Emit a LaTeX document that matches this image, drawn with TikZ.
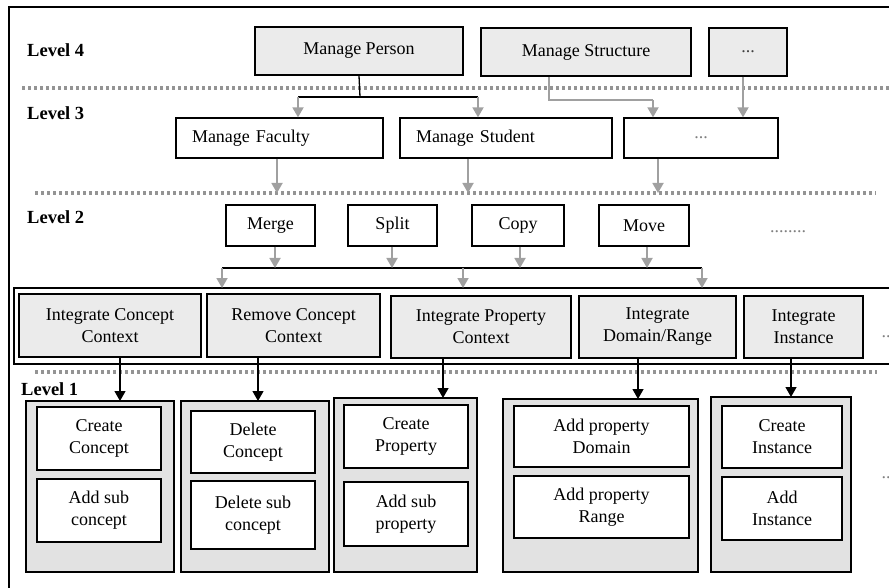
\documentclass[tikz,border=0pt]{standalone}
\usepackage{fontspec}
\setmainfont{Liberation Serif}
\usetikzlibrary{arrows.meta}
\definecolor{lg}{HTML}{EBEBEB}
\definecolor{cg}{HTML}{E2E2E2}
\definecolor{dg}{HTML}{949494}
\definecolor{ag}{HTML}{A0A0A0}
\newcommand\txt{\fontsize{18}{22}\selectfont}
\tikzset{
  box/.style={draw, line width=1.3pt, inner sep=1pt, align=center, font=\txt},
  gbox/.style={box, fill=lg},
  wbox/.style={box, fill=white},
  cbox/.style={draw, line width=1.3pt, fill=cg},
  lvl/.style={anchor=west, font=\fontsize{18.5}{20}\selectfont\bfseries, inner sep=0pt},
  dotl/.style={draw=dg, line width=3.3pt, dash pattern=on 3.3pt off 2.7pt},
  garrow/.style={draw=ag, line width=1.8pt, -{Triangle[width=11pt,length=10pt]}},
  gline/.style={draw=ag, line width=1.8pt},
  bline/.style={draw=black, line width=1.3pt},
  barrow/.style={draw=black, line width=1.3pt, -{Triangle[width=11pt,length=10pt]}},
  dots/.style={font=\txt, text=gray, inner sep=0pt},
}
\begin{document}
\begin{tikzpicture}[x=1pt,y=-1pt]
\useasboundingbox (0,0) rectangle (889,588);
% outer frame
\draw[line width=1.6pt] (9,588) -- (9,7) -- (889,7);
% level labels
\node[lvl] (l4) at (27,50) {Level 4};
\node[lvl] (l3) at (27,113) {Level 3};
\node[lvl] (l2) at (27,217) {Level 2};
\node[lvl] (l1) at (21,389) {Level 1};
% dotted separators
\coordinate (d1a) at (22,88);  \coordinate (d1b) at (889,88);
\coordinate (d2a) at (35,193); \coordinate (d2b) at (876,193);
\coordinate (d3a) at (35,372); \coordinate (d3b) at (877,372);
\draw[dotl] (d1a) -- (d1b);
\draw[dotl] (d2a) -- (d2b);
\draw[dotl] (d3a) -- (d3b);
% Level 4
\node[gbox, minimum width=208pt, minimum height=48pt] (mp) at (359,51) {Manage Person};
\node[gbox, minimum width=210pt, minimum height=48pt] (ms) at (586,52) {Manage Structure};
\node[gbox, minimum width=78pt, minimum height=48pt] (e4) at (748,52) {\textcolor{darkgray}{...}};
% Level 3
\node[wbox, minimum height=40pt, text width=175pt, inner xsep=16pt, align=left] (mf) at (279.5,138) {Manage Faculty};
\node[wbox, minimum height=40pt, text width=180pt, inner xsep=16pt, align=left] (mst) at (506,138) {Manage Student};
\node[wbox, minimum width=154pt, minimum height=40pt] (e3) at (701,138) {\textcolor{gray}{...}};
% L4 -> L3 connectors
\coordinate (p1) at (360,97);
\coordinate (p2) at (298,97);
\coordinate (p3) at (478,97);
\draw[bline] (mp.south) -- (p1);
\draw[bline] (p2) -- (p3);
\draw[garrow] (p2) -- (p2 |- mf.north);
\draw[garrow] (p3) -- (p3 |- mst.north);
\coordinate (s1) at (549,100);
\coordinate (s2) at (653,100);
\draw[gline] (s1 |- ms.south) -- (s1) -- (s2);
\draw[garrow] (s2) -- (s2 |- e3.north);
\coordinate (t1) at (743,88);
\draw[garrow] (t1 |- e4.south) -- (t1 |- e3.north);
% L3 -> dotted line
\coordinate (f1) at (277,193);
\coordinate (f2) at (468,193);
\coordinate (f3) at (658,193);
\draw[garrow] (f1 |- mf.south) -- (f1);
\draw[garrow] (f2 |- mst.south) -- (f2);
\draw[garrow] (f3 |- e3.south) -- (f3);
% Level 2
\node[wbox, minimum width=89pt, minimum height=41pt] (mg) at (270.5,225.5) {Merge};
\node[wbox, minimum width=89pt, minimum height=41pt] (sp) at (392.5,225.5) {Split};
\node[wbox, minimum width=92pt, minimum height=41pt] (cp) at (518,225.5) {Copy};
\node[wbox, minimum width=90pt, minimum height=41pt] (mv) at (644,225.5) {Move};
\node[dots] (e2) at (788,232) {........};
% container of level 2 integrate boxes
\draw[bline] (889,288) -- (14,288) -- (14,364) -- (889,364);
\coordinate (h0) at (222,268);
\coordinate (h9) at (702,268);
\draw[bline] (h0) -- (h9);
\coordinate (a1) at (275,268);
\coordinate (a2) at (392,268);
\coordinate (a3) at (520,268);
\coordinate (a4) at (647,268);
\draw[garrow] (a1 |- mg.south) -- (a1);
\draw[garrow] (a2 |- sp.south) -- (a2);
\draw[garrow] (a3 |- cp.south) -- (a3);
\draw[garrow] (a4 |- mv.south) -- (a4);
\coordinate (b1) at (222,288);
\coordinate (b2) at (463,288);
\coordinate (b3) at (702,288);
\draw[garrow] (h0) -- (b1);
\draw[garrow] (b2 |- h0) -- (b2);
\draw[garrow] (h9) -- (b3);
% integrate boxes
\node[gbox, minimum width=182pt, minimum height=63pt] (icc) at (110,325.5) {Integrate Concept\\Context};
\node[gbox, minimum width=173pt, minimum height=63pt] (rcc) at (293.5,325.5) {Remove Concept\\Context};
\node[gbox, minimum width=180pt, minimum height=62pt] (ipc) at (481,327) {Integrate Property\\Context};
\node[gbox, minimum width=157pt, minimum height=62pt] (idr) at (657.5,327) {Integrate\\Domain/Range};
\node[gbox, minimum width=119pt, minimum height=62pt] (ii) at (803.5,327) {Integrate\\Instance};
\node[dots] (e2b) at (886,337) {..};
% Level 1 containers
\draw[cbox] (26,401) rectangle (174,572);
\draw[cbox] (181,401) rectangle (329,572);
\draw[cbox] (334,398) rectangle (477,572);
\draw[cbox] (503,399) rectangle (698,572);
\draw[cbox] (711,397) rectangle (851,572);
\coordinate (k1) at (120,401);
\coordinate (k2) at (258,401);
\coordinate (k3) at (443,398);
\coordinate (k4) at (638,399);
\coordinate (k5) at (791,397);
\draw[barrow] (k1 |- icc.south) -- (k1);
\draw[barrow] (k2 |- rcc.south) -- (k2);
\draw[barrow] (k3 |- ipc.south) -- (k3);
\draw[barrow] (k4 |- idr.south) -- (k4);
\draw[barrow] (k5 |- ii.south) -- (k5);
% Level 1 operations
\node[wbox, minimum width=124pt, minimum height=63pt] (c1a) at (99,438.5) {Create\\Concept};
\node[wbox, minimum width=124pt, minimum height=63pt] (c1b) at (99,510.5) {Add sub\\concept};
\node[wbox, minimum width=124pt, minimum height=62pt] (c2a) at (253,442) {Delete\\Concept};
\node[wbox, minimum width=124pt, minimum height=68pt] (c2b) at (253,515) {Delete sub\\concept};
\node[wbox, minimum width=124pt, minimum height=63pt] (c3a) at (406,436.5) {Create\\Property};
\node[wbox, minimum width=124pt, minimum height=64pt] (c3b) at (406,514) {Add sub\\property};
\node[wbox, minimum width=175pt, minimum height=61pt] (c4a) at (601.5,436.5) {Add property\\Domain};
\node[wbox, minimum width=175pt, minimum height=62pt] (c4b) at (601.5,507) {Add property\\Range};
\node[wbox, minimum width=120pt, minimum height=62pt] (c5a) at (782,437) {Create\\Instance};
\node[wbox, minimum width=120pt, minimum height=63pt] (c5b) at (782,508.5) {Add\\Instance};
\node[dots] (e1) at (886,478) {..};
\end{tikzpicture}
\end{document}
